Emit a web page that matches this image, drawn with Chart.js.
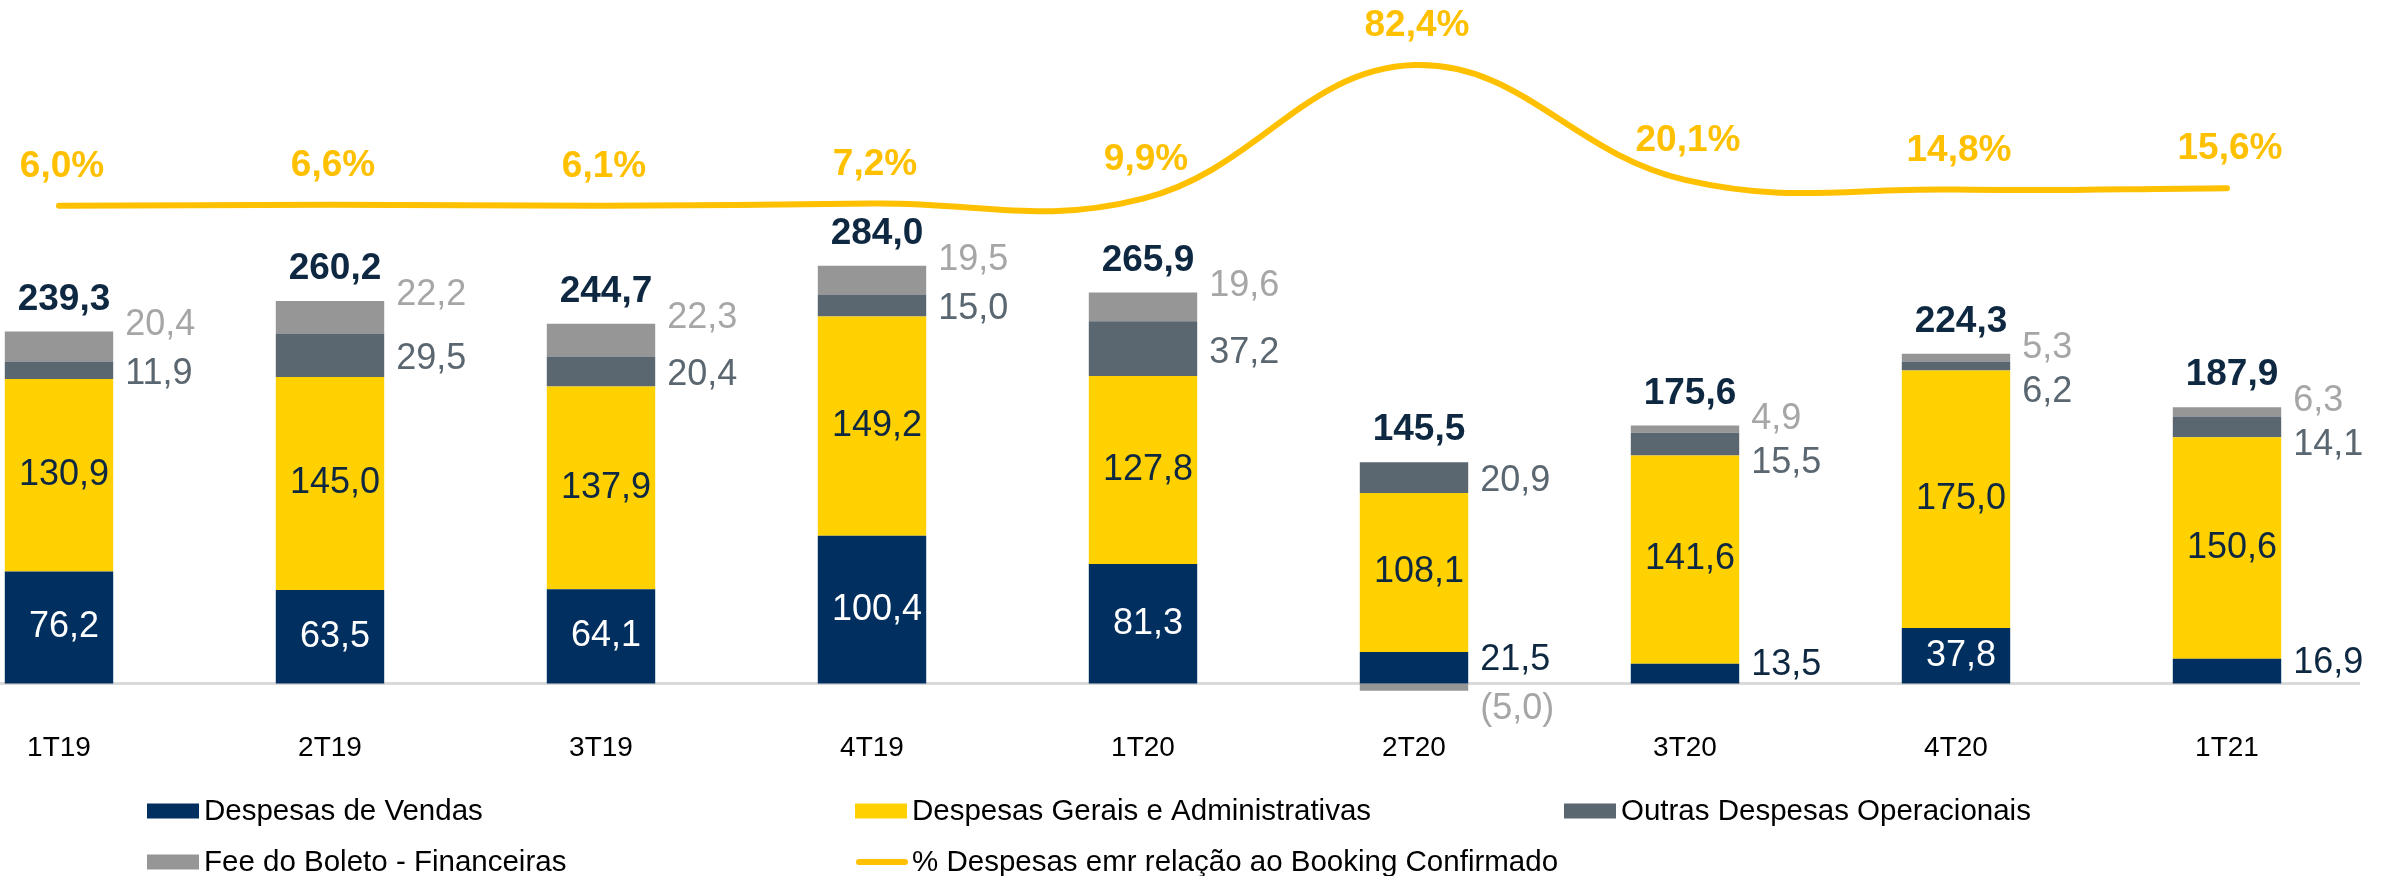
<!DOCTYPE html>
<html lang="pt-BR">
<head>
<meta charset="utf-8">
<title>Despesas operacionais por trimestre</title>
<script src="https://cdn.jsdelivr.net/npm/chart.js@4.4.1/dist/chart.umd.min.js"></script>
<style>
  html, body { margin: 0; padding: 0; background: #ffffff; }
  canvas { display: block; }
</style>
</head>
<body>
<canvas id="grafico" width="2381" height="876"></canvas>
<script>
/* dados (R$ milhoes) */
const trimestres = ['1T19', '2T19', '3T19', '4T19', '1T20', '2T20', '3T20', '4T20', '1T21'];
const despVendas = [76.2, 63.5, 64.1, 100.4, 81.3, 21.5, 13.5, 37.8, 16.9];
const despGerais = [130.9, 145.0, 137.9, 149.2, 127.8, 108.1, 141.6, 175.0, 150.6];
const outrasDesp = [11.9, 29.5, 20.4, 15.0, 37.2, 20.9, 15.5, 6.2, 14.1];
const feeBoleto  = [20.4, 22.2, 22.3, 19.5, 19.6, -5.0, 4.9, 5.3, 6.3];
const totais     = [239.3, 260.2, 244.7, 284.0, 265.9, 145.5, 175.6, 224.3, 187.9];
const pctBooking = [6.0, 6.6, 6.1, 7.2, 9.9, 82.4, 20.1, 14.8, 15.6];

const FONTE = '"Liberation Sans", Arial, sans-serif';
const AZUL = '#012F5F';
const AMARELO = '#FFD100';
const CINZA_ESCURO = '#5B6770';
const CINZA = '#969696';
const OURO = '#FFC000';

function fmt(n) {
    const s = Math.abs(n).toFixed(1).replace('.', ',');
    return n < 0 ? '(' + s + ')' : s;
}

// linha cinza do eixo zero, mais larga que a area do grafico
const linhaBase = {
    id: 'linhaBase',
    beforeDatasetsDraw(chart) {
        const ctx = chart.ctx;
        const y = chart.scales.y.getPixelForValue(0);
        ctx.save();
        ctx.strokeStyle = '#D9D9D9';
        ctx.lineWidth = 3;
        ctx.beginPath();
        ctx.moveTo(0, y);
        ctx.lineTo(2360, y);
        ctx.stroke();
        ctx.restore();
    }
};

// rotulos de valores
const rotulos = {
    id: 'rotulos',
    afterDatasetsDraw(chart) {
        const ctx = chart.ctx;
        const barras = [0, 1, 2, 3].map(i => chart.getDatasetMeta(i).data);
        const pontos = chart.getDatasetMeta(4).data;
        ctx.save();
        ctx.textBaseline = 'middle';

        trimestres.forEach((t, i) => {
            const v = barras[0][i], g = barras[1][i], o = barras[2][i], f = barras[3][i];
            const fora = v.x + v.width / 2 + 12;
            const meio = v.x + 5;

            ctx.font = '36px ' + FONTE;

            // despesas de vendas
            const cv = (v.y + v.base) / 2;
            if (despVendas[i] >= 30) {
                ctx.fillStyle = '#FFFFFF';
                ctx.textAlign = 'center';
                ctx.fillText(fmt(despVendas[i]), meio, cv);
            } else {
                ctx.fillStyle = '#0E2841';
                ctx.textAlign = 'left';
                ctx.fillText(fmt(despVendas[i]), fora, cv - 8);
            }

            // despesas gerais
            ctx.fillStyle = '#0E2841';
            ctx.textAlign = 'center';
            ctx.fillText(fmt(despGerais[i]), meio, (g.y + g.base) / 2);

            // fee do boleto
            ctx.textAlign = 'left';
            ctx.fillStyle = '#A6A6A6';
            let yFee = null;
            if (feeBoleto[i] >= 0) {
                yFee = f.y - 6;
                ctx.fillText(fmt(feeBoleto[i]), fora, yFee);
            } else {
                ctx.fillText(fmt(feeBoleto[i]), fora, f.y + 18);
            }

            // outras despesas
            ctx.fillStyle = CINZA_ESCURO;
            let yOut = (o.y + o.base) / 2 + 4;
            if (yFee !== null) yOut = Math.max(yOut, yFee + 44);
            ctx.fillText(fmt(outrasDesp[i]), fora, yOut);

            // total
            const topo = Math.min(v.y, g.y, o.y, f.y);
            ctx.font = 'bold 37px ' + FONTE;
            ctx.fillStyle = '#0E2841';
            ctx.textAlign = 'center';
            ctx.fillText(fmt(totais[i]), meio, topo - 32);

            // percentual
            const p = pontos[i];
            ctx.fillStyle = OURO;
            ctx.fillText(fmt(pctBooking[i]) + '%', p.x + 3, p.y - 39);
        });
        ctx.restore();
    }
};

// legenda em duas linhas, tres colunas
const legenda = {
    id: 'legenda',
    afterDraw(chart) {
        const ctx = chart.ctx;
        const colunas = [147, 855, 1564];
        const linhas = [811, 862];
        ctx.save();
        ctx.font = '29.5px ' + FONTE;
        ctx.textBaseline = 'middle';
        ctx.textAlign = 'left';
        chart.data.datasets.forEach((ds, k) => {
            const x = colunas[k % 3];
            const y = linhas[Math.floor(k / 3)];
            if (ds.type === 'line') {
                ctx.strokeStyle = ds.borderColor;
                ctx.lineWidth = 6;
                ctx.lineCap = 'round';
                ctx.beginPath();
                ctx.moveTo(x + 4, y);
                ctx.lineTo(x + 50, y);
                ctx.stroke();
            } else {
                ctx.fillStyle = ds.backgroundColor;
                ctx.fillRect(x, y - 7.5, 52, 15);
            }
            ctx.fillStyle = '#000000';
            ctx.fillText(ds.label, x + 57, y + 1);
        });
        ctx.restore();
    }
};

new Chart(document.getElementById('grafico'), {
    data: {
        labels: trimestres,
        datasets: [
            { type: 'bar', label: 'Despesas de Vendas', data: despVendas, backgroundColor: AZUL, stack: 'a', yAxisID: 'y', clip: false },
            { type: 'bar', label: 'Despesas Gerais e Administrativas', data: despGerais, backgroundColor: AMARELO, stack: 'a', yAxisID: 'y', clip: false },
            { type: 'bar', label: 'Outras Despesas Operacionais', data: outrasDesp, backgroundColor: CINZA_ESCURO, stack: 'a', yAxisID: 'y', clip: false },
            { type: 'bar', label: 'Fee do Boleto - Financeiras', data: feeBoleto, backgroundColor: CINZA, stack: 'a', yAxisID: 'y', clip: false },
            {
                type: 'line', label: '% Despesas emr relação ao Booking Confirmado', data: pctBooking,
                borderColor: OURO, backgroundColor: OURO, borderWidth: 6, borderCapStyle: 'round',
                tension: 0.4, pointRadius: 0, yAxisID: 'y2', clip: false, order: -1
            }
        ]
    },
    options: {
        responsive: false,
        animation: false,
        layout: { padding: { left: 59, right: 154, top: 36.5, bottom: 99.5 } },
        datasets: { bar: { barPercentage: 0.4, categoryPercentage: 1 } },
        plugins: {
            legend: { display: false },
            tooltip: { enabled: false }
        },
        scales: {
            x: {
                offset: false,
                grid: { display: false },
                border: { display: false },
                ticks: { color: '#000000', padding: 11, font: { family: FONTE, size: 28 } }
            },
            y: {
                display: false,
                stacked: true,
                min: -20,
                max: 440
            },
            y2: {
                display: false,
                min: -269.2,
                max: 97.9
            }
        }
    },
    plugins: [linhaBase, rotulos, legenda]
});
</script>
</body>
</html>
